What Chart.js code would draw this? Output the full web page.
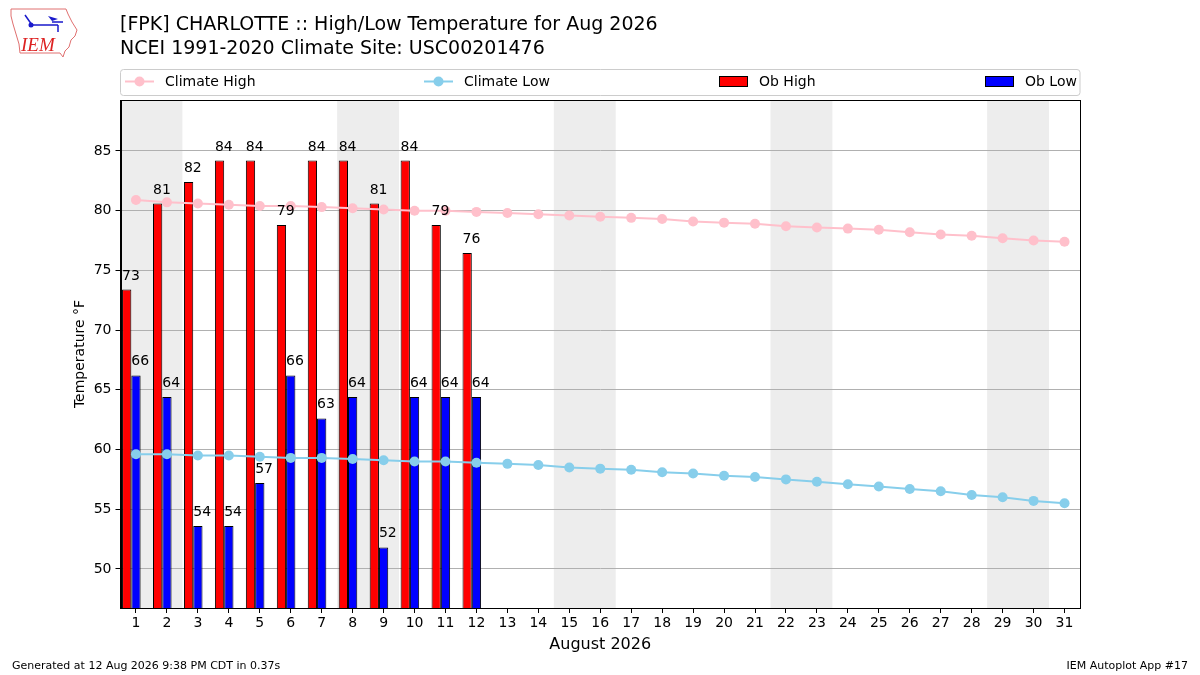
<!DOCTYPE html>
<html>
<head>
<meta charset="utf-8">
<title>[FPK] CHARLOTTE High/Low Temperature for Aug 2026</title>
<script src="https://cdn.jsdelivr.net/npm/chart.js@4.4.1/dist/chart.umd.min.js"></script>
<style>
  html, body { margin: 0; padding: 0; background: #fff; }
  #wrap { width: 1200px; height: 675px; }
</style>
</head>
<body>
<div id="wrap"><canvas id="chart" width="1200" height="675"></canvas></div>
<script>
// chart values
const days = ['1', '2', '3', '4', '5', '6', '7', '8', '9', '10', '11', '12', '13', '14', '15', '16',
              '17', '18', '19', '20', '21', '22', '23', '24', '25', '26', '27', '28', '29', '30', '31'];
const obHigh = [73.4, 80.6, 82.4, 84.2, 84.2, 78.8, 84.2, 84.2, 80.6, 84.2, 78.8, 76.46];
const obLow = [66.2, 64.4, 53.6, 53.6, 57.2, 66.2, 62.6, 64.4, 51.8, 64.4, 64.4, 64.4];
const climateHigh = [80.9, 80.7, 80.6, 80.5, 80.4, 80.4, 80.3, 80.2, 80.1, 80.0, 80.0, 79.9, 79.8, 79.7, 79.6, 79.5,
                     79.4, 79.3, 79.1, 79.0, 78.9, 78.7, 78.6, 78.5, 78.4, 78.2, 78.0, 77.9, 77.7, 77.5, 77.4];
const climateLow = [59.6, 59.6, 59.5, 59.5, 59.4, 59.3, 59.3, 59.2, 59.1, 59.0, 59.0, 58.9, 58.8, 58.7, 58.5, 58.4,
                    58.3, 58.1, 58.0, 57.8, 57.7, 57.5, 57.3, 57.1, 56.9, 56.7, 56.5, 56.2, 56.0, 55.7, 55.5];
const yTicks = [50, 55, 60, 65, 70, 75, 80, 85];
const weekendDays = ['1', '2', '8', '9', '15', '16', '22', '23', '29', '30'];

const FONT = "'DejaVu Sans', sans-serif";

// weekend bands go under the grid lines
const backgroundPlugin = {
    id: 'background',
    beforeDraw(chart) {
        const ctx = chart.ctx;
        const area = chart.chartArea;
        const x = chart.scales.x;
        ctx.save();
        ctx.fillStyle = '#ffffff';
        ctx.fillRect(0, 0, chart.width, chart.height);
        const half = (x.getPixelForValue(1) - x.getPixelForValue(0)) / 2;

        // merge sat+sun into one band so there is no seam
        const idx = weekendDays.map(d => days.indexOf(d));
        const runs = [];
        idx.forEach(i => {
            const last = runs[runs.length - 1];
            if (last && i === last[1] + 1) last[1] = i;
            else runs.push([i, i]);
        });
        ctx.fillStyle = '#ededed';
        runs.forEach(r => {
            const left = Math.max(x.getPixelForValue(r[0]) - half, area.left);
            const right = Math.min(x.getPixelForValue(r[1]) + half, area.right);
            ctx.fillRect(left, area.top, right - left, area.bottom - area.top);
        });
        ctx.restore();
    }
};

// value labels above the observed bars
const barLabelPlugin = {
    id: 'barLabels',
    afterDatasetsDraw(chart) {
        const ctx = chart.ctx;
        ctx.save();
        ctx.font = '14px ' + FONT;
        ctx.fillStyle = '#000';
        ctx.textAlign = 'left';
        ctx.textBaseline = 'alphabetic';
        chart.data.datasets.forEach((ds, i) => {
            if (!ds.showValues) return;
            chart.getDatasetMeta(i).data.forEach((bar, j) => {
                const v = ds.data[j];
                if (v === null || v === undefined) return;
                ctx.fillText(String(Math.round(v)), bar.x - bar.width / 2, bar.y - 10);
            });
        });
        ctx.restore();
    }
};

// frame, titles, legend box, logo and footer
const decorPlugin = {
    id: 'decor',
    afterDraw(chart) {
        const ctx = chart.ctx;
        const area = chart.chartArea;
        ctx.save();

        // top + right spines
        ctx.strokeStyle = '#000';
        ctx.lineWidth = 1;
        ctx.strokeRect(Math.round(area.left) + 0.5, Math.round(area.top) + 0.5,
                       Math.round(area.right - area.left) - 1, Math.round(area.bottom - area.top));

        // titles
        ctx.fillStyle = '#000';
        ctx.textAlign = 'left';
        ctx.textBaseline = 'alphabetic';
        ctx.font = '19px ' + FONT;
        ctx.fillText('[FPK] CHARLOTTE :: High/Low Temperature for Aug 2026', 120, 30);
        ctx.fillText('NCEI 1991-2020 Climate Site: USC00201476', 120, 54);

        // axis titles
        ctx.font = '16px ' + FONT;
        ctx.textAlign = 'center';
        ctx.fillText('August 2026', (area.left + area.right) / 2, 649);
        ctx.save();
        ctx.translate(84, (area.top + area.bottom) / 2);
        ctx.rotate(-Math.PI / 2);
        ctx.font = '14px ' + FONT;
        ctx.fillText('Temperature \u00B0F', 0, 0);
        ctx.restore();

        // footer
        ctx.font = '11px ' + FONT;
        ctx.textAlign = 'left';
        ctx.fillText('Generated at 12 Aug 2026 9:38 PM CDT in 0.37s', 12, 669);
        ctx.textAlign = 'right';
        ctx.fillText('IEM Autoplot App #17', 1188, 669);

        // legend
        const lx = area.left, lw = area.right - area.left, ly = 69.5, lh = 26;
        ctx.beginPath();
        ctx.roundRect(lx, ly, lw, lh, 3);
        ctx.fillStyle = 'rgba(255,255,255,0.8)';
        ctx.fill();
        ctx.strokeStyle = '#cccccc';
        ctx.stroke();
        const slots = [125, 424, 719, 985];
        const midY = ly + lh / 2 - 1;
        let k = 0;
        chart.data.datasets.forEach(ds => {
            if (!ds.label) return;
            const sx = slots[k++];
            if (ds.type === 'line') {
                ctx.strokeStyle = ds.borderColor;
                ctx.lineWidth = 2;
                ctx.beginPath();
                ctx.moveTo(sx, midY);
                ctx.lineTo(sx + 29, midY);
                ctx.stroke();
                ctx.fillStyle = ds.borderColor;
                ctx.beginPath();
                ctx.arc(sx + 14.5, midY, 5, 0, Math.PI * 2);
                ctx.fill();
            } else {
                ctx.fillStyle = ds.backgroundColor;
                ctx.fillRect(sx + 0.5, midY - 5, 28, 10);
                ctx.strokeStyle = '#000';
                ctx.lineWidth = 1;
                ctx.strokeRect(sx + 0.5, midY - 5, 28, 10);
            }
            ctx.fillStyle = '#000';
            ctx.font = '14px ' + FONT;
            ctx.textAlign = 'left';
            ctx.textBaseline = 'middle';
            ctx.fillText(ds.label, sx + 40, midY + 1);
        });

        // IEM logo, roughly
        ctx.strokeStyle = '#e07070';
        ctx.lineWidth = 1;
        ctx.beginPath();
        ctx.moveTo(11, 9); ctx.lineTo(66, 9); ctx.lineTo(68, 14); ctx.lineTo(72, 22);
        ctx.lineTo(77, 30); ctx.lineTo(75, 36); ctx.lineTo(71, 40); ctx.lineTo(69, 47);
        ctx.lineTo(65, 51); ctx.lineTo(63, 57); ctx.lineTo(60, 53); ctx.lineTo(20, 53);
        ctx.lineTo(19, 44); ctx.lineTo(16, 34); ctx.lineTo(13, 24); ctx.lineTo(11, 16);
        ctx.closePath();
        ctx.stroke();
        ctx.strokeStyle = '#1a1acc';
        ctx.fillStyle = '#1a1acc';
        ctx.lineWidth = 1.5;
        ctx.beginPath();
        ctx.moveTo(31, 25); ctx.lineTo(58, 25);
        ctx.moveTo(32, 25); ctx.lineTo(25, 15);
        ctx.moveTo(58, 25); ctx.lineTo(58, 32);
        ctx.moveTo(52, 22); ctx.lineTo(63, 22);
        ctx.stroke();
        ctx.beginPath();
        ctx.arc(31, 25, 2.5, 0, Math.PI * 2);
        ctx.fill();
        ctx.beginPath();
        ctx.moveTo(48, 16); ctx.lineTo(58, 19); ctx.lineTo(52, 21); ctx.closePath();
        ctx.fill();
        ctx.fillStyle = '#dd2222';
        ctx.font = 'italic 19px "Liberation Serif", serif';
        ctx.textAlign = 'left';
        ctx.textBaseline = 'alphabetic';
        ctx.fillText('IEM', 21, 51);

        ctx.restore();
    }
};

const ctx = document.getElementById('chart').getContext('2d');
new Chart(ctx, {
    data: {
        labels: days,
        datasets: [
            {
                type: 'line', label: 'Climate High', data: climateHigh,
                borderColor: '#ffc0cb', backgroundColor: '#ffc0cb',
                borderWidth: 2, pointRadius: 5, pointBorderWidth: 0, order: 0
            },
            {
                type: 'line', label: 'Climate Low', data: climateLow,
                borderColor: '#87ceeb', backgroundColor: '#87ceeb',
                borderWidth: 2, pointRadius: 5, pointBorderWidth: 0, order: 0
            },
            {
                type: 'bar', label: 'Ob High', data: obHigh, showValues: true,
                backgroundColor: '#ff0000', borderColor: '#000', borderWidth: 1, order: 1
            },
            {
                type: 'bar', label: 'Ob Low', data: obLow, showValues: true,
                backgroundColor: '#0000ff', borderColor: '#000', borderWidth: 1, order: 1
            },
            // empty slot so the high/low pair sits left of the day tick
            { type: 'bar', label: '', data: [], order: 1 }
        ]
    },
    options: {
        responsive: false,
        animation: false,
        devicePixelRatio: 1,
        layout: { padding: { top: 100, right: 120, left: 0, bottom: 0 } },
        datasets: { bar: { categoryPercentage: 0.9, barPercentage: 1.0, borderSkipped: 'start' } },
        plugins: { legend: { display: false }, title: { display: false }, tooltip: { enabled: false } },
        scales: {
            x: {
                type: 'category',
                offset: true,
                grid: { drawOnChartArea: false, drawTicks: true, offset: false, tickLength: 5, tickColor: '#000' },
                border: { display: true, color: '#000', width: 1 },
                ticks: { color: '#000', font: { family: FONT, size: 14 }, padding: 2, maxRotation: 0, autoSkip: false },
                afterFit(scale) { scale.height = 67; }
            },
            y: {
                type: 'linear',
                min: 46.73,
                max: 89.27,
                grid: { color: '#b0b0b0', lineWidth: 1, tickColor: '#000', tickLength: 5 },
                border: { display: true, color: '#000', width: 1 },
                ticks: { color: '#000', font: { family: FONT, size: 14 }, padding: 4 },
                afterBuildTicks(scale) { scale.ticks = yTicks.map(v => ({ value: v })); },
                afterFit(scale) { scale.width = 120.5; }
            }
        }
    },
    plugins: [backgroundPlugin, barLabelPlugin, decorPlugin]
});
</script>
</body>
</html>
